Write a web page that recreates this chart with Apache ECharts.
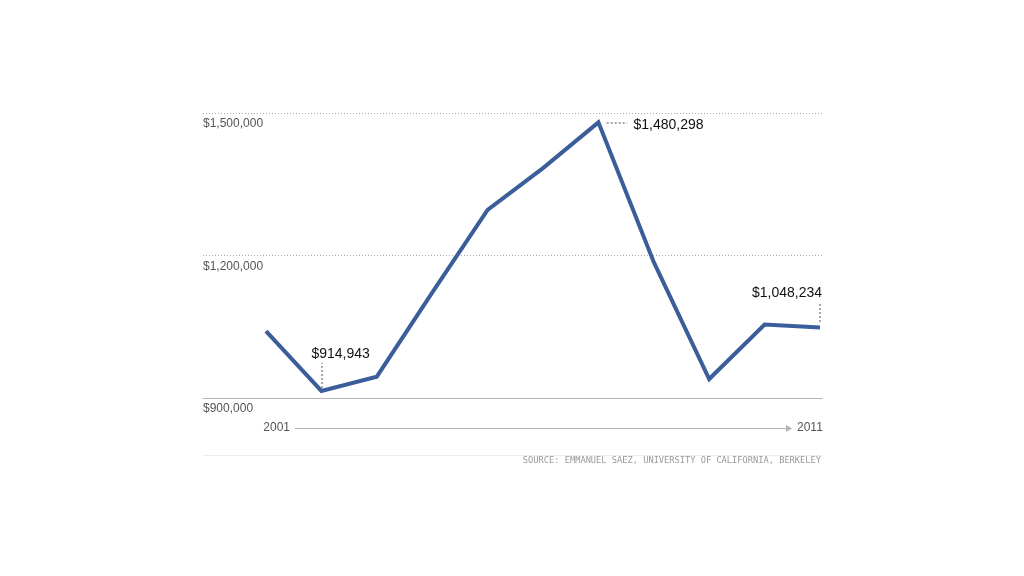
<!DOCTYPE html>
<html>
<head>
<meta charset="utf-8">
<script src="https://cdn.jsdelivr.net/npm/echarts@6/dist/echarts.min.js"></script>
<style>html,body{margin:0;padding:0;background:#fff;}#c{width:1024px;height:576px;}</style>
</head>
<body>
<div id="c"></div>
<script>
const years = [2001, 2002, 2003, 2004, 2005, 2006, 2007, 2008, 2009, 2010, 2011];
const income = [1041000, 914943, 944800, 1122000, 1296000, 1384000, 1480298, 1186000, 940000, 1054500, 1048234];
const yTicks = [900000, 1200000, 1500000];
const labelled = [1, 6, 10];
const source = 'SOURCE: EMMANUEL SAEZ, UNIVERSITY OF CALIFORNIA, BERKELEY';

const fmt = v => '$' + v.toLocaleString('en-US');
const labelPos = {
  1: {position: 'top', distance: 30, align: 'left', offset: [-10, 0]},
  6: {position: 'right', distance: 35, offset: [0, 3]},
  10: {position: 'top', distance: 27, align: 'right', offset: [2, 0]}
};
const data = years.map((y, i) => {
  const d = {value: [y, income[i]]};
  if (labelled.includes(i)) {
    d.label = Object.assign({show: true, formatter: fmt(income[i]), fontSize: 14, color: '#111',
      fontFamily: 'Liberation Sans, Arial, sans-serif'}, labelPos[i]);
  }
  return d;
});

const chart = echarts.init(document.getElementById('c'), null, {renderer: 'canvas'});
const leader = {color: '#a8a8a8', width: 2, type: [2, 2]};
chart.setOption({
  animation: false,
  backgroundColor: '#fff',
  grid: {left: 203, right: 202, top: 113, bottom: 178, containLabel: false},
  xAxis: {
    type: 'value', min: 1999.863, max: 2011.036,
    axisLine: {show: true, lineStyle: {color: '#b4b4b4', width: 1}},
    axisTick: {show: false}, axisLabel: {show: false}, splitLine: {show: false}
  },
  yAxis: {
    type: 'value', min: yTicks[0], max: yTicks[yTicks.length - 1], interval: 300000,
    axisLine: {show: false}, axisTick: {show: false},
    axisLabel: {inside: true, margin: 0, verticalAlign: 'top', padding: [5, 0, 0, 0],
      color: '#555', fontSize: 12, fontFamily: 'Liberation Sans, Arial, sans-serif',
      formatter: v => fmt(v)},
    splitLine: {show: true, showMinLine: false, lineStyle: {color: '#aaa', type: [1, 2], width: 1}}
  },
  series: [{
    type: 'line',
    data: data,
    symbol: 'circle',
    symbolSize: 0.1,
    showSymbol: true,
    showAllSymbol: true,
    lineStyle: {color: '#3b5e9a', width: 4, cap: 'butt', join: 'miter'},
    itemStyle: {color: '#3b5e9a'},
    markLine: {
      silent: true, symbol: 'none', label: {show: false},
      lineStyle: leader,
      data: [
        [{coord: [years[1], 921000]}, {coord: [years[1], 973500]}],
        [{coord: [2007.15, income[6]]}, {coord: [2007.52, income[6]]}],
        [{coord: [years[10], 1060000]}, {coord: [years[10], 1102000]}]
      ]
    }
  }],
  graphic: [
    {type: 'text', right: 1024 - 290, top: 422,
      style: {text: String(years[0]), fill: '#555', font: '12px Liberation Sans, Arial, sans-serif'}},
    {type: 'line', shape: {x1: 295, y1: 428.5, x2: 788, y2: 428.5}, style: {stroke: '#b4b4b4', lineWidth: 1}},
    {type: 'polygon', shape: {points: [[786, 425], [792, 428.5], [786, 432]]}, style: {fill: '#b4b4b4'}},
    {type: 'text', left: 797, top: 422,
      style: {text: String(years[years.length - 1]), fill: '#555', font: '12px Liberation Sans, Arial, sans-serif'}},
    {type: 'line', shape: {x1: 203, y1: 455.5, x2: 822, y2: 455.5}, style: {stroke: '#ececec', lineWidth: 1}},
    {type: 'text', right: 1024 - 821, top: 456,
      style: {text: source, fill: '#9a9a9a', font: '8.7px DejaVu Sans Mono, monospace'}}
  ]
});
</script>
</body>
</html>
